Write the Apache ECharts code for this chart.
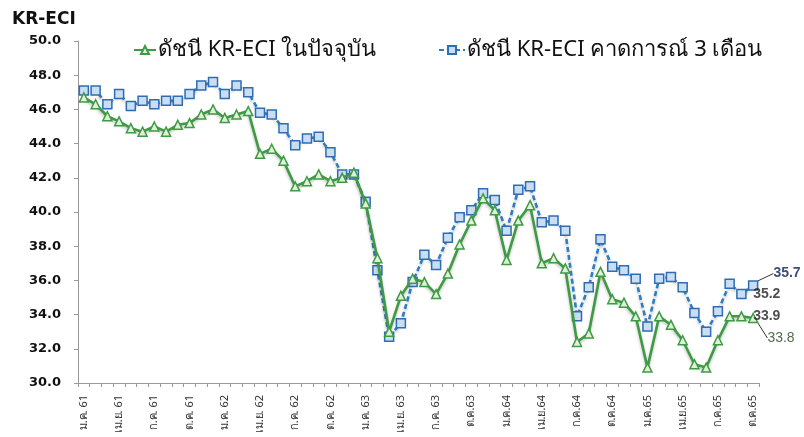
<!DOCTYPE html>
<html><head><meta charset="utf-8">
<script src="https://cdn.jsdelivr.net/npm/echarts@6/dist/echarts.min.js"></script>
<style>html,body{margin:0;padding:0;background:#fff}#c{width:804px;height:437px}</style>
</head><body><div id="c"></div>
<script>
const tickLabels = ['ม.ค. 61','เม.ย. 61','ก.ค. 61','ต.ค. 61','ม.ค. 62','เม.ย. 62','ก.ค. 62','ต.ค. 62','ม.ค. 63','เม.ย. 63','ก.ค. 63','ต.ค.63','ม.ค.64','เม.ย.64','ก.ค.64','ต.ค.64','ม.ค.65','เม.ย.65','ก.ค.65','ต.ค.65'];
const currentIdx = [46.7,46.3,45.6,45.3,44.9,44.7,45.0,44.7,45.1,45.2,45.7,46.0,45.5,45.7,45.9,43.4,43.7,43.0,41.5,41.8,42.2,41.8,42.0,42.3,40.5,37.3,33.0,35.1,36.1,35.9,35.2,36.4,38.1,39.5,40.8,40.1,37.2,39.5,40.4,37.0,37.3,36.7,32.4,32.9,36.5,34.9,34.7,33.9,30.9,33.9,33.4,32.5,31.1,30.9,32.5,33.9,33.9,33.8];
const forecastIdx = [47.1,47.1,46.3,46.9,46.2,46.5,46.3,46.5,46.5,46.9,47.4,47.6,46.9,47.4,47.0,45.8,45.7,44.9,43.9,44.3,44.4,43.5,42.2,42.2,40.6,36.6,32.7,33.5,35.9,37.5,36.9,38.5,39.7,40.1,41.1,40.7,38.9,41.3,41.5,39.4,39.5,38.9,33.9,35.6,38.4,36.8,36.6,36.1,33.3,36.1,36.2,35.6,34.1,33.0,34.2,35.8,35.2,35.7];
const prevMonthVals = [35.2, 33.9];
const seriesNames = ['ดัชนี KR-ECI ในปัจจุบัน','ดัชนี KR-ECI คาดการณ์ 3 เดือน'];

const FONT = "'Noto Sans', 'DejaVu Sans', sans-serif";
const BOLD_FONT = "'DejaVu Sans', 'Liberation Sans', sans-serif";
const N = currentIdx.length;
const categories = currentIdx.map((v, i) => (i % 3 === 0 ? tickLabels[i / 3] : 'm' + i));
const lastCat = categories[N - 1];

function withLastLabel(arr, labelOpt) {
  return arr.map((v, i) => i === N - 1 ? { value: v, label: labelOpt } : v);
}

const chart = echarts.init(document.getElementById('c'), null, { renderer: 'canvas' });
chart.setOption({
  animation: false,
  textStyle: { fontFamily: FONT },
  title: { text: 'KR-ECI', left: 7, top: 6, textStyle: { fontFamily: BOLD_FONT, fontWeight: 'bold', fontSize: 17, color: '#111' } },
  legend: [
    { data: [seriesNames[0]], left: 128, top: 34, itemWidth: 22, itemHeight: 10, textStyle: { fontSize: 22, color: '#111', fontFamily: FONT, padding: [0, 0, 0, -3] } },
    { data: [seriesNames[1]], left: 433, top: 34, itemWidth: 26, itemHeight: 10, textStyle: { fontSize: 22, color: '#111', fontFamily: FONT, padding: [0, 0, 0, -3] } }
  ],
  grid: { left: 78, right: 45, top: 41, bottom: 54, containLabel: false },
  xAxis: {
    type: 'category', data: categories, boundaryGap: true,
    axisLine: { lineStyle: { color: '#999', width: 1 } },
    axisTick: { show: true, interval: 0, length: 4, lineStyle: { color: '#999' } },
    axisLabel: {
      interval: 0, rotate: 90, fontSize: 11, color: '#333', margin: 12, fontFamily: FONT,
      formatter: v => /^m\d+$/.test(v) ? '' : v
    }
  },
  yAxis: {
    type: 'value', min: 30, max: 50, interval: 2,
    axisLine: { show: true, lineStyle: { color: '#999' } },
    axisTick: { show: true, length: 4, lineStyle: { color: '#999' } },
    splitLine: { show: false },
    axisLabel: { formatter: v => v.toFixed(1), fontSize: 13, fontWeight: 'bold', color: '#111', margin: 17, fontFamily: BOLD_FONT }
  },
  series: [
    {
      name: seriesNames[0], type: 'line', z: 3,
      data: withLastLabel(currentIdx, {
        show: true, position: 'right', formatter: '{c}', color: '#556b50', fontSize: 14,
        fontFamily: "'Liberation Sans', Arial, sans-serif"
      }),
      symbol: 'triangle', symbolSize: 9,
      itemStyle: { color: '#dff2d8', borderColor: '#3f9a45', borderWidth: 1.5 },
      lineStyle: { color: '#3f9a45', width: 2.6, shadowColor: 'rgba(0,0,0,0.25)', shadowBlur: 3, shadowOffsetY: 2 },
      labelLayout: { dx: 4, dy: 20 },
      labelLine: { show: true, lineStyle: { color: '#333', width: 1 } }
    },
    {
      name: seriesNames[1], type: 'line', z: 2,
      data: withLastLabel(forecastIdx, {
        show: true, position: 'right', formatter: '{c}', color: '#3d4f75', fontSize: 14, fontWeight: 'bold',
        fontFamily: "'Liberation Sans', Arial, sans-serif"
      }),
      symbol: 'rect', symbolSize: 9,
      itemStyle: { color: '#c9def3', borderColor: '#2e6db4', borderWidth: 1.5 },
      lineStyle: { color: '#2e7cc4', width: 2.6, type: [5, 3], shadowColor: 'rgba(0,0,0,0.25)', shadowBlur: 3, shadowOffsetY: 2 },
      labelLayout: { dx: 10, dy: -12 },
      labelLine: { show: true, lineStyle: { color: '#333', width: 1 } }
    },
    {
      name: 'prev', type: 'scatter', symbolSize: 0, z: 4,
      data: prevMonthVals.map(v => [lastCat, v]),
      label: { show: true, position: 'right', distance: 0, formatter: p => p.value[1].toFixed(1), color: '#222', fontSize: 14, fontWeight: 'bold', fontFamily: "'Liberation Sans', Arial, sans-serif" },
      silent: true
    }
  ]
});
</script></body></html>
